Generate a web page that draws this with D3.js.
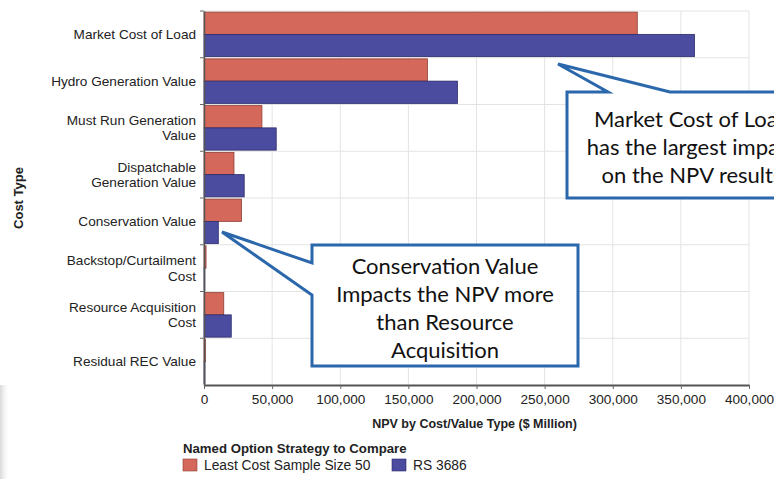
<!DOCTYPE html>
<html>
<head>
<meta charset="utf-8">
<script src="https://cdn.jsdelivr.net/npm/d3@7"></script>
<style>
  body { margin: 0; background: #fff; }
  svg { display: block; font-family: "Liberation Sans", Arial, sans-serif; }
  .callout text { font-family: Lato, "Open Sans", sans-serif; font-size: 22px; fill: #111; }
</style>
</head>
<body>
<svg id="chart" width="774" height="479"></svg>
<script>
// data
var categories = [
  "Market Cost of Load",
  "Hydro Generation Value",
  "Must Run Generation Value",
  "Dispatchable Generation Value",
  "Conservation Value",
  "Backstop/Curtailment Cost",
  "Resource Acquisition Cost",
  "Residual REC Value"
];
var labelLines = [
  ["Market Cost of Load"],
  ["Hydro Generation Value"],
  ["Must Run Generation", "Value"],
  ["Dispatchable", "Generation Value"],
  ["Conservation Value"],
  ["Backstop/Curtailment", "Cost"],
  ["Resource Acquisition", "Cost"],
  ["Residual REC Value"]
];
var seriesNames = ["Least Cost Sample Size 50", "RS 3686"];
var leastCost = [318000, 164000, 42500, 22000, 27500, 1500, 14500, 1000];
var rs3686 = [360000, 186000, 53000, 29500, 10500, 600, 20000, 700];
var xTicks = [0, 50000, 100000, 150000, 200000, 250000, 300000, 350000, 400000];

var colors = ["#d4695b", "#4b4b9f"];
var strokes = ["#8e3d33", "#2b2b6b"];

var svg = d3.select("#chart");
var margin = {top: 11, right: 25, bottom: 94, left: 204};
var width = 774 - margin.left - margin.right,
    height = 479 - margin.top - margin.bottom;

// faint slide shadow at the lower left edge
var defs = svg.append("defs");
var grad = defs.append("linearGradient").attr("id", "shade").attr("x1", 0).attr("x2", 1);
grad.append("stop").attr("offset", 0).attr("stop-color", "#d8d8d8");
grad.append("stop").attr("offset", 1).attr("stop-color", "#fff").attr("stop-opacity", 0);
svg.append("rect").attr("x", 0).attr("y", 385).attr("width", 10).attr("height", 94)
  .attr("fill", "url(#shade)");

var g = svg.append("g").attr("transform", "translate(" + margin.left + "," + margin.top + ")");

var x = d3.scaleLinear().domain([0, 400000]).range([0, width]);
var y = d3.scaleBand().domain(categories).range([0, height]).padding(0);
var sub = d3.scaleBand().domain([0, 1]).range([0, y.bandwidth()]).paddingOuter(0.05).paddingInner(0);

// grid
g.append("g").selectAll("line.v")
  .data(xTicks.slice(1))
  .enter().append("line")
  .attr("x1", d => x(d)).attr("x2", d => x(d))
  .attr("y1", 0).attr("y2", height)
  .attr("stroke", "#e3e3e3").attr("stroke-width", 1);

g.append("g").selectAll("line.h")
  .data(d3.range(categories.length))
  .enter().append("line")
  .attr("x1", 0).attr("x2", width)
  .attr("y1", i => y(categories[i])).attr("y2", i => y(categories[i]))
  .attr("stroke", "#e3e3e3").attr("stroke-width", 1);

// bars
var series = [leastCost, rs3686];
series.forEach(function(vals, s) {
  g.append("g").selectAll("rect")
    .data(vals)
    .enter().append("rect")
    .attr("x", x(0))
    .attr("y", (d, i) => y(categories[i]) + sub(s))
    .attr("width", d => x(d) - x(0))
    .attr("height", sub.bandwidth())
    .attr("fill", colors[s])
    .attr("stroke", strokes[s])
    .attr("stroke-width", 0.8);
});

// x axis
var xaxis = g.append("g")
  .attr("transform", "translate(0," + height + ")")
  .call(d3.axisBottom(x).tickValues(xTicks).tickFormat(d3.format(",")).tickSize(4).tickSizeOuter(0));
xaxis.select(".domain").attr("stroke", "#555").attr("stroke-width", 2);
xaxis.selectAll(".tick line").attr("stroke", "#666");
xaxis.selectAll("text").attr("fill", "#222").style("font-size", "13.6px").attr("dy", "0.85em");

// y axis
var yaxis = g.append("g")
  .call(d3.axisLeft(y).tickValues([]).tickSizeOuter(0));
yaxis.select(".domain").attr("stroke", "#555").attr("stroke-width", 1.5);
yaxis.selectAll(".bnd").data(categories).enter().append("line")
  .attr("x1", -4).attr("x2", 0)
  .attr("y1", d => y(d)).attr("y2", d => y(d))
  .attr("stroke", "#666");

var labels = g.append("g").selectAll("text")
  .data(labelLines)
  .enter().append("text")
  .attr("text-anchor", "end")
  .attr("fill", "#222")
  .style("font-size", "13.6px")
  .attr("transform", (d, i) => "translate(-8," + (y(categories[i]) + y.bandwidth() / 2) + ")");
labels.selectAll("tspan")
  .data(d => d)
  .enter().append("tspan")
  .attr("x", 0)
  .attr("y", (t, j, nodes) => (j - (nodes.length - 1) / 2) * 15.5)
  .attr("dy", "0.35em")
  .text(t => t);

// axis titles
svg.append("text")
  .text("NPV by Cost/Value Type ($ Million)")
  .attr("x", margin.left + width / 2 - 2).attr("y", 428)
  .attr("text-anchor", "middle")
  .style("font-size", "12.5px").style("font-weight", "bold").attr("fill", "#222");

svg.append("text")
  .text("Cost Type")
  .attr("transform", "translate(23,198)rotate(-90)")
  .attr("text-anchor", "middle")
  .style("font-size", "13px").style("font-weight", "bold").attr("fill", "#222");

// legend
svg.append("text")
  .text("Named Option Strategy to Compare")
  .attr("x", 183).attr("y", 453)
  .style("font-size", "13.2px").style("font-weight", "bold").attr("fill", "#222");

var legendX = [183, 392];
var legend = svg.append("g").selectAll("g")
  .data(seriesNames)
  .enter().append("g")
  .attr("transform", (d, i) => "translate(" + legendX[i] + ",459)");
legend.append("rect")
  .attr("width", 14).attr("height", 12)
  .attr("fill", (d, i) => colors[i])
  .attr("stroke", (d, i) => strokes[i]).attr("stroke-width", 0.6);
legend.append("text")
  .attr("x", 21).attr("y", 11)
  .style("font-size", "13.8px").attr("fill", "#222")
  .text(d => d);

// callouts
var callouts = [
  {box: [567, 92, 830, 198], tip: [558, 64], base: "top", b0: 608, b1: 670,
   lines: ["Market Cost of Load", "has the largest impact", "on the NPV results"], cx: 692, ty: 127},
  {box: [312, 245, 578, 366], tip: [222, 232], base: "left", b0: 263, b1: 295,
   lines: ["Conservation Value", "Impacts the NPV more", "than Resource", "Acquisition"], cx: 445, ty: 274}
];

callouts.forEach(function(c) {
  var b = c.box, p;
  if (c.base == "top") {
    p = "M" + b[0] + "," + b[1] + "L" + c.b0 + "," + b[1] + "L" + c.tip[0] + "," + c.tip[1] +
        "L" + c.b1 + "," + b[1] + "L" + b[2] + "," + b[1] + "L" + b[2] + "," + b[3] +
        "L" + b[0] + "," + b[3] + "Z";
  } else {
    p = "M" + b[0] + "," + b[1] + "L" + b[2] + "," + b[1] + "L" + b[2] + "," + b[3] +
        "L" + b[0] + "," + b[3] + "L" + b[0] + "," + c.b1 + "L" + c.tip[0] + "," + c.tip[1] +
        "L" + b[0] + "," + c.b0 + "Z";
  }
  var cg = svg.append("g").attr("class", "callout");
  cg.append("path").attr("d", p)
    .attr("fill", "#fff").attr("stroke", "#2a67ab").attr("stroke-width", 3)
    .attr("stroke-linejoin", "miter");
  cg.selectAll("text").data(c.lines).enter().append("text")
    .attr("x", c.cx).attr("y", (d, i) => c.ty + i * 28)
    .attr("text-anchor", "middle")
    .text(d => d);
});
</script>
</body>
</html>
